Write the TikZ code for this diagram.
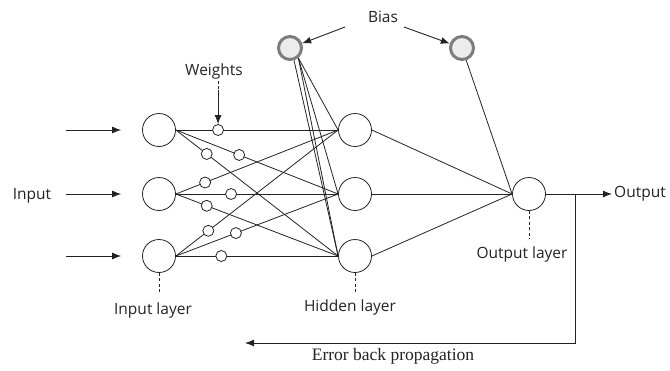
\documentclass[tikz,border=0pt]{standalone}
\usepackage{fontspec}
\setmainfont{Liberation Serif}
\newfontfamily\lblfont{Open Sans}
\usetikzlibrary{arrows.meta,calc}
\definecolor{biasfill}{RGB}{236,236,236}
\definecolor{biasedge}{RGB}{125,125,125}
\definecolor{ink}{RGB}{35,35,35}
\tikzset{
  neuron/.style={circle,draw=ink,line width=0.8pt,minimum size=33pt,inner sep=0pt},
  biasnode/.style={circle,draw=biasedge,fill=biasfill,line width=3pt,minimum size=23pt,inner sep=0pt},
  wt/.style={circle,draw=ink,fill=white,line width=0.8pt,minimum size=11pt,inner sep=0pt},
  conn/.style={draw=ink,line width=0.8pt},
  arr/.style={draw=ink,line width=0.9pt,-{Latex[length=9pt,width=7pt]}},
  dsh/.style={draw=ink,line width=0.9pt,dash pattern=on 3pt off 2.5pt},
  lbl/.style={font=\lblfont\fontsize{15.5}{17}\selectfont,text=ink,inner sep=2pt},
  serlbl/.style={font=\fontsize{17.5}{19}\selectfont,text=ink,inner sep=2pt}
}
\begin{document}
\begin{tikzpicture}[x=1pt,y=-1pt]
\useasboundingbox (0,0) rectangle (670,370);
% neurons
\node[neuron] (i1) at (159,130) {};
\node[neuron] (i2) at (159,194) {};
\node[neuron] (i3) at (159,256) {};
\node[neuron] (h1) at (355,130) {};
\node[neuron] (h2) at (355,194) {};
\node[neuron] (h3) at (355,256) {};
\node[neuron] (o) at (529,194) {};
\node[biasnode] (b1) at (290,48) {};
\node[biasnode] (b2) at (462,48) {};
% input -> hidden with weights
\path[conn] (i1.east) -- (h1.west) node[wt,pos=0.26] (w11) {};
\path[conn] (i1.east) -- (h2.west) node[wt,pos=0.39] (w12) {};
\path[conn] (i1.east) -- (h3.west) node[wt,pos=0.19] (w13) {};
\path[conn] (i2.east) -- (h1.west) node[wt,pos=0.18] (w21) {};
\path[conn] (i2.east) -- (h2.west) node[wt,pos=0.34] (w22) {};
\path[conn] (i2.east) -- (h3.west) node[wt,pos=0.19] (w23) {};
\path[conn] (i3.east) -- (h1.west) node[wt,pos=0.20] (w31) {};
\path[conn] (i3.east) -- (h2.west) node[wt,pos=0.37] (w32) {};
\path[conn] (i3.east) -- (h3.west) node[wt,pos=0.28] (w33) {};
% bias 1 -> hidden
\draw[conn] (b1.-50) -- (h1.west);
\draw[conn] (b1.-50) -- (h2.west);
\draw[conn] (b1.-50) -- (h3.west);
\draw[conn] (b1.-72) -- (h3.west);
% hidden -> output
\draw[conn] (h1.east) -- (o.west);
\draw[conn] (h2.east) -- (o.west);
\draw[conn] (h3.east) -- (o.west);
\draw[conn] (b2) -- (o.west);
% labels
\node[lbl] (bias) at (383,17) {Bias};
\node[lbl] (wl) at (214,71) {Weights};
\node[lbl] (inp) at (32,196) {Input};
\node[lbl,anchor=west] (outl) at (612,194) {Output};
\node[lbl] (il) at (153,310) {Input layer};
\node[lbl] (hl) at (350,307) {Hidden layer};
\node[lbl] (ol) at (522,254) {Output layer};
\node[serlbl] (eb) at (393,356) {Error back propagation};
% bias arrows
\coordinate (ba1) at (345,27);
\coordinate (ba2) at (404,27);
\draw[arr] (ba1) -- (b1);
\draw[arr] (ba2) -- (b2);
% weights arrow
\draw[dsh] (w11 |- wl.south) -- ++(0,9);
\draw[arr] ($(w11 |- wl.south)+(0,9)$) -- (w11.north);
% input arrows
\coordinate (a1) at (66,130);
\coordinate (a2) at (66,194);
\coordinate (a3) at (66,256);
\draw[arr,shorten >=21pt] (a1) -- (i1.west);
\draw[arr,shorten >=21pt] (a2) -- (i2.west);
\draw[arr,shorten >=21pt] (a3) -- (i3.west);
% output arrow and feedback
\draw[arr] (o.east) -- (outl.west);
\coordinate (fb) at (575,194);
\coordinate (fe) at (245,343);
\draw[arr] (fb) |- (fe);
% layer markers
\draw[dsh] (i3.south) -- ++(0,19);
\draw[dsh] (h3.south) -- ++(0,19);
\draw[dsh] (o.south) -- ++(0,28);
\end{tikzpicture}
\end{document}
